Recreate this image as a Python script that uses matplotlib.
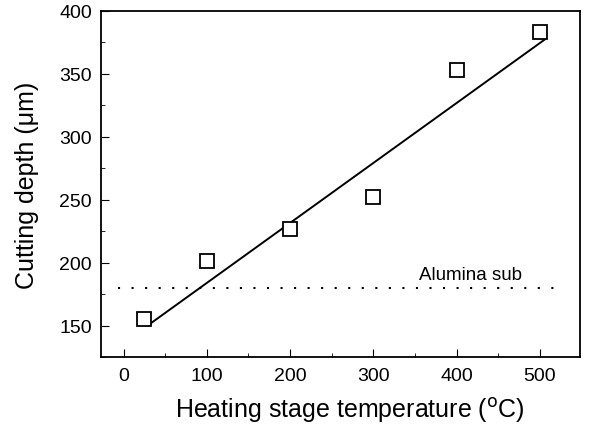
import numpy as np
import matplotlib.pyplot as plt
from matplotlib.ticker import MultipleLocator

##################################################
# data
##################################################

temp = [25, 100, 200, 300, 400, 500]
depth = [155, 201, 227, 252, 353, 383]

# linear fit line as drawn in the figure
fit_x = [29, 505]
fit_y = [150, 377]

# alumina substrate thickness
sub_x = [-7, 523]
sub_y = [180, 180]

##################################################
# plot
##################################################

plt.rcParams['font.family'] = ['Liberation Sans', 'DejaVu Sans']

fig = plt.figure(figsize=(5.89, 4.27), dpi=100)
ax = fig.add_axes([0.1715, 0.1616, 0.8132, 0.8103])

ax.plot(fit_x, fit_y, color='black', linewidth=1.4)
ax.plot(temp, depth, linestyle='none', marker='s', markersize=9.5,
        markerfacecolor='white', markeredgecolor='black', markeredgewidth=1.3)
ax.plot(sub_x, sub_y, linestyle=(0, (1, 5.5)), color='black', linewidth=1.5)
ax.text(416, 187, 'Alumina sub', fontsize=13.5, ha='center', va='baseline')

ax.set_xlim(-27, 548)
ax.set_ylim(125, 400)
ax.xaxis.set_major_locator(MultipleLocator(100))
ax.xaxis.set_minor_locator(MultipleLocator(50))
ax.yaxis.set_major_locator(MultipleLocator(50))
ax.yaxis.set_minor_locator(MultipleLocator(25))
ax.tick_params(which='both', direction='in', labelsize=14)
ax.tick_params(which='major', length=6)
ax.tick_params(which='minor', length=3)
ax.tick_params(axis='x', which='major', pad=7)
ax.tick_params(axis='y', which='major', pad=6.5)
for s in ax.spines.values():
    s.set_linewidth(1.3)

ax.set_xlabel('Heating stage temperature ($^{\\rm o}$C)', fontsize=18, va='baseline')
ax.set_ylabel('Cutting depth (\u03bcm)', fontsize=18)
ax.xaxis.set_label_coords(0.519, -0.173)
ax.yaxis.set_label_coords(-0.13, 0.5)

fig.savefig('out.png', dpi=100)
